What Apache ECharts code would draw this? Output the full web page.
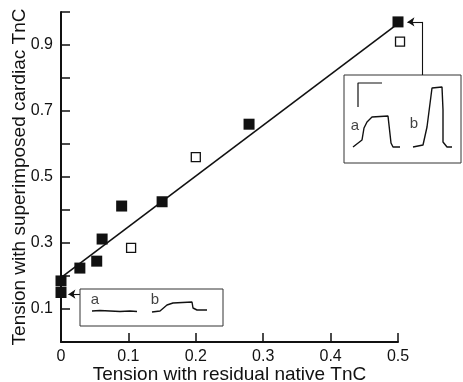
<!DOCTYPE html>
<html>
<head>
<meta charset="utf-8">
<script src="https://cdn.jsdelivr.net/npm/echarts@6/dist/echarts.min.js"></script>
<style>
  html, body { margin: 0; padding: 0; background: #fff; }
  #chart { width: 463px; height: 382px; }
</style>
</head>
<body>
<div id="chart"></div>
<script>
// main data: tension with residual native TnC vs tension with superimposed cardiac TnC
var filledPts = [[0, 0.15], [0, 0.185], [0.028, 0.224], [0.053, 0.245], [0.061, 0.312],
  [0.09, 0.412], [0.15, 0.425], [0.279, 0.66], [0.5, 0.97]]
var openPts = [[0.104, 0.285], [0.2, 0.56], [0.503, 0.91]]
var fitLine = [[0, 0.195], [0.5, 0.965]]

// arrows from the insets to their points
var arrowLow = [[0.028, 0.145], [0.011, 0.145]]
var arrowHighStem = [[0.536, 0.809], [0.536, 0.97]]
var arrowHighTip = [[0.536, 0.97], [0.514, 0.97]]

// inset traces (arbitrary time / force units)
var lowTraceA = [[12, 15], [20, 15.5], [30, 15], [40, 14.5], [50, 15], [57, 14.5]]
var lowTraceB = [[72, 14], [80, 15], [87, 21], [93, 23], [112, 24], [113, 18], [117, 16], [127, 16]]
var lowLabels = [[15, 26, 'a'], [75, 26, 'b']]
var highScale = [[14, 56], [14, 80], [38, 80]]
var highTraceA = [[9, 16], [18, 23], [20, 35], [23, 41], [28, 46], [44, 47], [46, 48], [47, 20], [49, 16], [56, 16]]
var highTraceB = [[69, 16], [79, 18], [83, 36], [88, 75], [98, 76], [99, 53], [99, 21], [103, 16], [108, 16]]
var highLabels = [[11, 37, 'a'], [70, 39, 'b']]

var font = 'Liberation Sans, Arial, Helvetica, sans-serif'
var ink = '#111'

var chart = echarts.init(document.getElementById('chart'))

function hiddenAxis(idx, max) {
  return { gridIndex: idx, type: 'value', min: 0, max: max, show: false }
}

function trace(xi, data, w) {
  return {
    type: 'line', xAxisIndex: xi, yAxisIndex: xi, data: data,
    symbol: 'none', silent: true,
    lineStyle: { color: ink, width: w || 1.4 }
  }
}

function letters(xi, data) {
  return {
    type: 'scatter', xAxisIndex: xi, yAxisIndex: xi, data: data,
    symbolSize: 0, silent: true,
    label: {
      show: true, position: 'inside', color: ink, fontFamily: font, fontSize: 15,
      formatter: function (p) { return p.data[2] }
    }
  }
}

function arrowSeries(segs, head) {
  return {
    type: 'lines', coordinateSystem: 'cartesian2d', clip: false, silent: true,
    symbol: ['none', head ? 'arrow' : 'none'], symbolSize: 7,
    lineStyle: { color: ink, width: 1.1, opacity: 1, curveness: 0 },
    data: segs.map(function (s) { return { coords: s } })
  }
}

chart.setOption({
  animation: false,
  grid: [
    { left: 61, top: 12, width: 337, height: 330, outerBoundsMode: 'none' },
    { left: 80, top: 289, width: 143, height: 37, outerBoundsMode: 'none', show: true, borderColor: '#333', borderWidth: 1, backgroundColor: '#fff' },
    { left: 344, top: 75, width: 117, height: 88, outerBoundsMode: 'none', show: true, borderColor: '#333', borderWidth: 1, backgroundColor: '#fff' }
  ],
  xAxis: [
    {
      type: 'value', min: 0, max: 0.5, interval: 0.1,
      name: 'Tension with residual native TnC', nameLocation: 'middle', nameGap: 23,
      nameMoveOverlap: false,
      nameTextStyle: { fontFamily: font, fontSize: 19, color: ink },
      axisLine: { lineStyle: { color: ink, width: 2 } },
      axisTick: { inside: true, length: 9, lineStyle: { color: ink, width: 1.5 } },
      axisLabel: {
        margin: 7, fontFamily: font, fontSize: 16, color: ink,
        formatter: function (v) { return v === 0 ? '0' : v.toFixed(1) }
      },
      splitLine: { show: false }
    },
    hiddenAxis(1, 143),
    hiddenAxis(2, 117)
  ],
  yAxis: [
    {
      type: 'value', min: 0, max: 1.0, interval: 0.1,
      name: 'Tension with superimposed cardiac TnC', nameLocation: 'middle', nameGap: 32,
      nameMoveOverlap: false,
      nameTextStyle: { fontFamily: font, fontSize: 19, color: ink },
      axisLine: { lineStyle: { color: ink, width: 2 } },
      axisTick: { inside: true, length: 9, lineStyle: { color: ink, width: 1.5 } },
      axisLabel: {
        margin: 8, fontFamily: font, fontSize: 16, color: ink,
        formatter: function (v) {
          return Math.round(v * 10) % 2 === 1 ? v.toFixed(1) : ''
        }
      },
      splitLine: { show: false }
    },
    hiddenAxis(1, 37),
    hiddenAxis(2, 88)
  ],
  series: [
    {
      type: 'line', data: fitLine, symbol: 'none', silent: true,
      lineStyle: { color: ink, width: 1.6 }
    },
    {
      type: 'scatter', data: filledPts, symbol: 'rect', symbolSize: 11, clip: false,
      itemStyle: { color: ink, opacity: 1 }
    },
    {
      type: 'scatter', data: openPts, symbol: 'rect', symbolSize: 9, clip: false,
      itemStyle: { color: '#fff', borderColor: ink, borderWidth: 1.3, opacity: 1 }
    },
    arrowSeries([arrowHighStem], false),
    arrowSeries([arrowLow, arrowHighTip], true),
    trace(1, lowTraceA),
    trace(1, lowTraceB),
    letters(1, lowLabels),
    trace(2, highScale, 1.2),
    trace(2, highTraceA),
    trace(2, highTraceB),
    letters(2, highLabels)
  ]
})
</script>
</body>
</html>
